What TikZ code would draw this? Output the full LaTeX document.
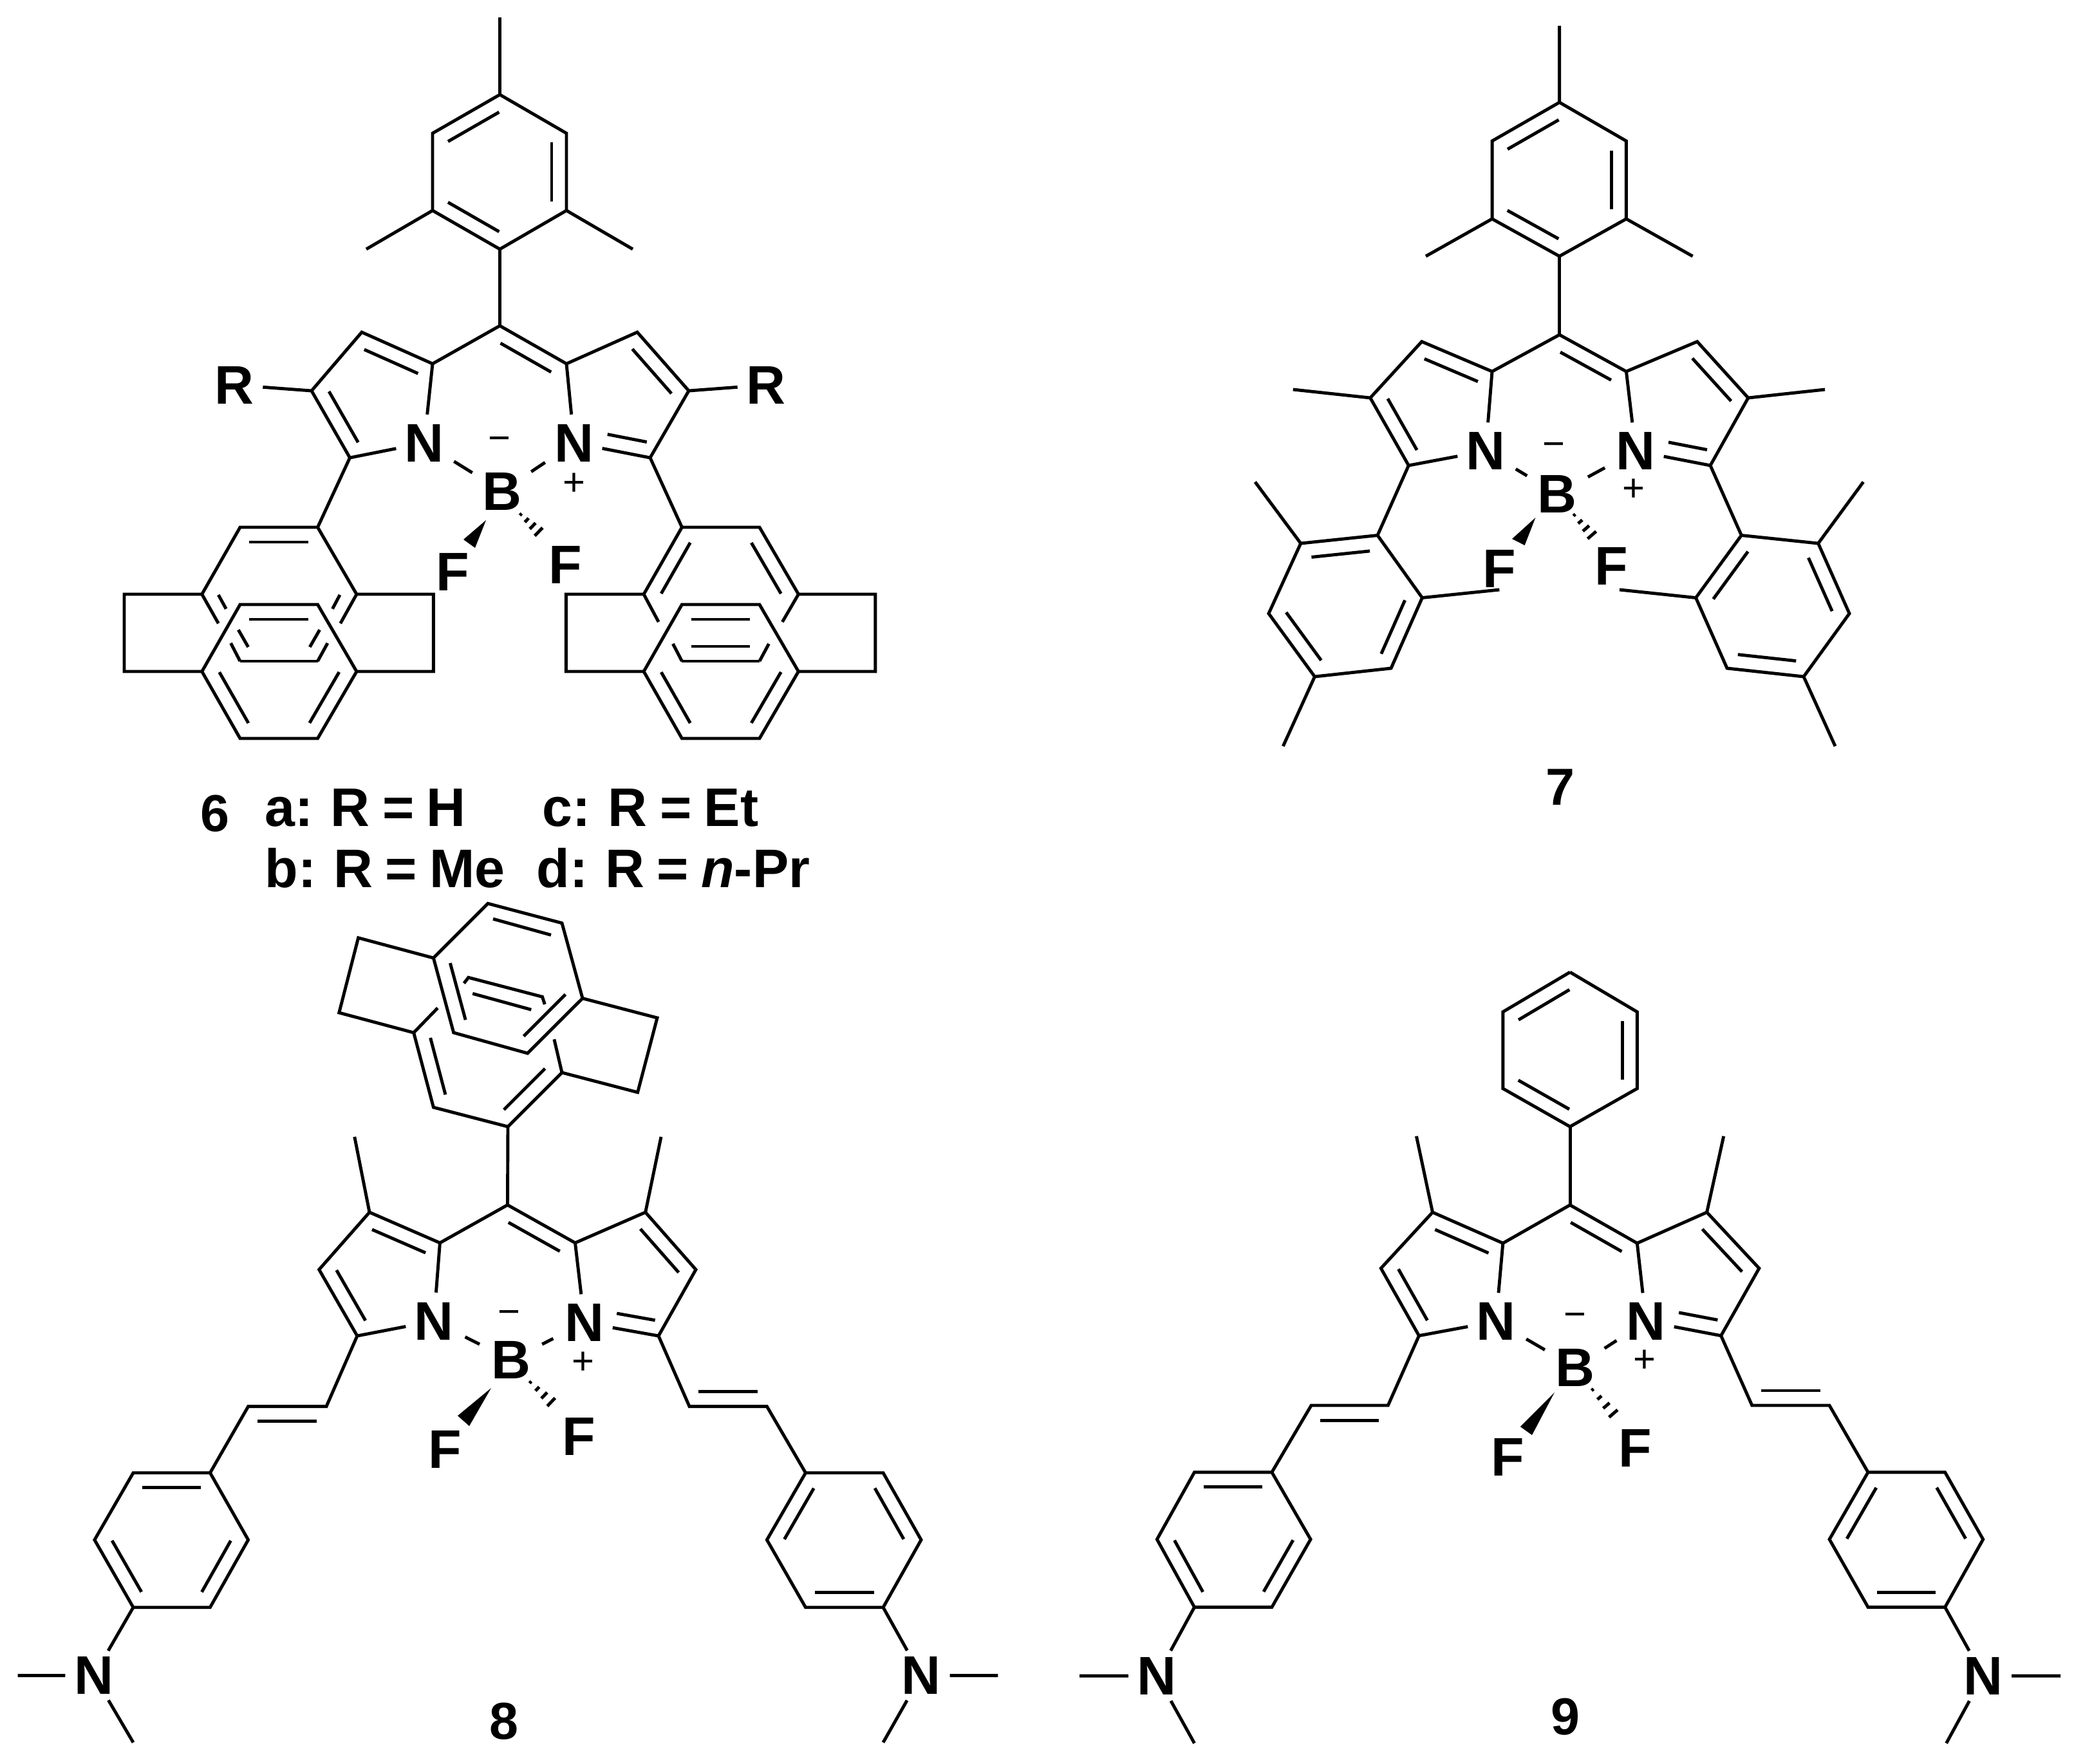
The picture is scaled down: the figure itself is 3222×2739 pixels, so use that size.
\documentclass[tikz,border=0pt]{standalone}
\usepackage{fontspec}
\setmainfont{Liberation Sans}
\usetikzlibrary{calc}
\newcommand\tagfont{\fontsize{24}{24}\selectfont\bfseries\spaceskip=.23em\relax}
\tikzset{
  atom/.style   = {circle, inner sep=0pt, minimum size=.84cm, font=\fontsize{24}{24}\selectfont\bfseries},
  chg/.style    = {inner sep=0pt, font=\fontsize{17}{17}\selectfont},
  tag/.style    = {inner sep=0pt, font=\tagfont},
  numtag/.style = {inner sep=0pt, font=\fontsize{23}{23}\selectfont\bfseries},
  nbond/.style  = {shorten <=1mm, shorten >=1mm},
}
\newcommand\coords[1]{\foreach \n/\x/\y in {#1} {\coordinate (\n) at (\x,\y);}}
\newcommand\atoms[1]{\foreach \n/\x/\y/\lab in {#1} {\node[atom] (\n) at (\x,\y) {\lab};}}
% inner line of a double bond, on the left of a -> b
\newcommand\dbl[2]{\draw ($(#1)!.12!(#2)!.23cm!90:(#2)$) -- ($(#2)!.12!(#1)!.23cm!-90:(#1)$);}
\newcommand\hashed[2]{\foreach \pos in {0,.25,.5,.75,1} {%
  \pgfmathsetmacro\w{.02+.09*\pos}
  \draw ($(#1)!\pos!(#2)!\w cm!90:(#2)$) -- ($(#1)!\pos!(#2)!\w cm!-90:(#2)$);}}
% the dipyrrin core shared by all four dyes
\newcommand\corebonds{
  \draw (meso)--(aL)--(bL)--(cL)--(dL)--(NL)--(aL);
  \draw (meso)--(aR)--(bR)--(cR)--(dR)--(NR)--(aR);
  \dbl{aR}{meso} \dbl{aL}{bL} \dbl{cL}{dL} \dbl{cR}{bR}
  \coordinate (NRe) at ($(NR)!.32!(dR)$);
  \dbl{NRe}{dR}
  \draw[nbond] (NL)--(B);
  \draw[nbond] (NR)--(B);
  \fill (wt)--(wa)--(wb)--cycle;
  \hashed{ht}{he}
}
% ring, vinyl and NMe2 arm
\newcommand\armbonds{
  \draw (dL)--(v1)--(v2)--(r1)--(r2)--(r3)--(r4)--(r5)--(r6)--(r1);
  \draw (dR)--(w1)--(w2)--(s1)--(s2)--(s3)--(s4)--(s5)--(s6)--(s1);
  \dbl{v1}{v2} \dbl{w1}{w2}
  \dbl{r1}{r2} \dbl{r3}{r4} \dbl{r5}{r6}
  \dbl{s1}{s6} \dbl{s5}{s4} \dbl{s3}{s2}
  \draw (r4)--(NA)--(mA); \draw (NA)--(nA);
  \draw (s4)--(NZ)--(mZ); \draw (NZ)--(nZ);
}
% the paracyclophane outline
\newcommand\phane{
  \coords{uTa/373/819,uTb/493.5/819,uL/313.7/923,uR/554/923,uBa/373/1027,uBb/493.5/1027,
    lTa/373/939,lTb/493.5/939,lL/313.7/1043,lR/554/1043,lBa/373/1147,lBb/493.5/1147,
    brA/193/923,brB/193/1043,brC/673.4/923,brD/673.4/1043}
  \draw (uL)--(brA)--(brB)--(lL)--(lBa)--(lBb)--(lR)--(brD)--(brC)--(uR);
  \draw (lL)--(lTa)--(lTb)--(lR);
  \draw (uL)--(uTa)--(uTb)--(uR);
  \draw (uBa)--(uBb);
  \dbl{lL}{lBa} \dbl{lBb}{lR} \dbl{lTb}{lTa}
}
\begin{document}
\begin{tikzpicture}[x=.01cm, y=-.01cm, line width=1.4pt]
  \useasboundingbox (0,0) rectangle (3222,2739);

  % dye 6
  \begin{scope}[name prefix=six-]
    \coords{mT/776.5/27,p/776.5/147,ul/672/207,ur/880/207,ll/672/327,lr/880/327,ipso/776.5/387,
      mL/569/387,mR/983/387,meso/776.5/506,aL/672/565,aR/880/565,bL/562/516,bR/990/516,
      cL/484/607,cR/1070/607,dL/543.5/711,dR/1010/711,
      wt/755/808,wa/720/838,wb/738/851,ht/809/799,he/846/835}
    \atoms{NL/659/688/N,NR/892/688/N,B/780/763/B,FL/703.5/888/F,FR/878/877/F,RL/364/598/R,RR/1190/598/R}
    \node[chg] (minus) at (776,689) {−};
    \node[chg] (plus) at (892,752) {+};
    \corebonds
    \draw (mT)--(p)--(ul)--(ll)--(ipso)--(lr)--(ur)--(p);
    \draw (mL)--(ll); \draw (mR)--(lr); \draw (ipso)--(meso);
    \dbl{p}{ul} \dbl{ll}{ipso} \dbl{lr}{ur}
    \draw (cL)--(RL); \draw (cR)--(RR);
  \end{scope}
  % left cyclophane of 6
  \begin{scope}[name prefix=pca-]
    \phane
    \dbl{uTb}{uTa}
    \coords{ka/339.3/968.3,kb/358.5/999,kc/528.8/968.3,kd/508.9/999,
      ia/339.3/924,ib/351.2/945.7,ic/370.3/978.3,id/385.6/1005,
      ie/528/924,if/516.5/945.7,ig/496.6/978.3,ih/481.3/1005}
    \draw (uL)--(ka); \draw (kb)--(uBa); \draw (uR)--(kc); \draw (kd)--(uBb);
    \draw (ia)--(ib); \draw (ic)--(id); \draw (ie)--(if); \draw (ig)--(ih);
  \end{scope}
  % right cyclophane of 6
  \begin{scope}[name prefix=pcb-, xshift=6.86cm]
    \phane
    \dbl{uTa}{uL} \dbl{uR}{uTb} \dbl{uBa}{uBb}
    \coords{ka/336.7/966,kb/359/1000,kc/529/966,kd/508/1000}
    \draw (uL)--(ka); \draw (kb)--(uBa); \draw (uR)--(kc); \draw (kd)--(uBb);
  \end{scope}
  \draw (six-dL)--(pca-uTb);
  \draw (six-dR)--(pcb-uTa);
  \node[numtag] (six) at (334,1264) {6};
  \node[tag, anchor=west] (sixa) at (409,1255) {a: R = H};
  \node[tag, anchor=west] (sixc) at (840,1255) {c: R = Et};
  \node[tag, anchor=west] (sixb) at (409,1348) {b: R = Me};
  \node[tag, anchor=west] (sixd) at (831,1348) {d: R = \textit{n}-Pr};

  % dye 7
  \begin{scope}[name prefix=sev-]
    \coords{mT/2422.6/40,p/2422.6/159,ul/2318/219,ur/2526.4/219,ll/2318/340,lr/2526.4/340,ipso/2422.6/398,
      mL/2215/398,mR/2629.6/398,meso/2422.6/520,aL/2318/577,aR/2526.4/577,bL/2208.7/530.6,bR/2636.6/530.6,
      cL/2128.7/618,cR/2715.8/618,xL/2008.7/605,xR/2835/605,dL/2188.3/723,dR/2657/723,
      wt/2385.4/804,wa/2349/837,wb/2368.6/847,ht/2445.8/800,he/2482/841.5,
      ca/2140/831.5,cb/2020.7/844,cc/1970.9/953,cd/2042.4/1051,ce/2161/1038,cf/2209.4/928.5,
      qb/1949.8/748.6,qd/1993.3/1159,qf/2329.3/916,
      ga/2705.3/831.5,gb/2824.6/844,gc/2873/953,gd/2802/1051,ge/2683/1038,gf/2634.5/928.5,
      hb/2894.7/748.6,hd/2851/1159,hf/2516/916}
    \atoms{NL/2308/700.5/N,NR/2541/700.5/N,B/2419/767/B,FL/2329/883/F,FR/2503/879/F}
    \node[chg] (minus) at (2414,698) {−};
    \node[chg] (plus) at (2538.4,761) {+};
    \corebonds
    \draw (mT)--(p)--(ul)--(ll)--(ipso)--(lr)--(ur)--(p);
    \draw (mL)--(ll); \draw (mR)--(lr); \draw (ipso)--(meso);
    \dbl{p}{ul} \dbl{ll}{ipso} \dbl{lr}{ur}
    \draw (xL)--(cL); \draw (xR)--(cR);
    \draw (dL)--(ca)--(cb)--(cc)--(cd)--(ce)--(cf)--(ca);
    \draw (qb)--(cb); \draw (qd)--(cd); \draw (qf)--(cf);
    \dbl{ca}{cb} \dbl{cc}{cd} \dbl{ce}{cf}
    \draw (dR)--(ga)--(gb)--(gc)--(gd)--(ge)--(gf)--(ga);
    \draw (hb)--(gb); \draw (hd)--(gd); \draw (hf)--(gf);
    \dbl{ga}{gf} \dbl{ge}{gd} \dbl{gc}{gb}
  \end{scope}
  \node[numtag] (sev) at (2424,1223) {7};

  % dye 8
  \begin{scope}[name prefix=eig-]
    \coords{meso/788.5/1871.6,aL/683.4/1930.5,aR/893.5/1930.5,bL/574/1883,bR/1002.7/1883,
      xL/550.8/1765.8,xR/1027/1765.8,cL/495.7/1972,cR/1081/1972,dL/554.9/2075,dR/1023/2075,
      wt/763/2156,wa/711/2199,wb/729/2215,ht/824/2147,he/867/2188,
      v1/507/2184.6,v2/385.6/2184.6,r1/326.4/2287.7,r2/207/2287.7,r3/146.9/2391.8,r4/207/2496.7,r5/326.4/2496.7,r6/385.6/2391.8,
      mA/27.5/2602.5,nA/207/2706.5,
      w1/1071/2184.6,w2/1191.4/2184.6,s1/1251.5/2287.7,s2/1372/2287.7,s3/1431/2391.8,s4/1372/2496.7,s5/1251.5/2496.7,s6/1191.4/2391.8,
      mZ/1550.4/2602.5,nZ/1372/2706.5}
    \atoms{NL/674/2052/N,NR/908/2054.5/N,B/793.6/2112.6/B,FL/691.6/2251/F,FR/899.6/2231/F,NA/145.9/2602.5/N,NZ/1431/2602.5/N}
    \node[chg] (minus) at (790.5,2046) {−};
    \node[chg] (plus) at (905.8,2117) {+};
    \corebonds
    \armbonds
    \draw (xL)--(bL); \draw (xR)--(bR);
    % cyclophane on the meso position
    \coords{ta/673.4/1488,tb/758/1403.4,tc/873/1433.8,td/905/1550.7,te/819.5/1636,tf/704.7/1604,
      ga/556.6/1456.7,gb/526.8/1573,gc/642.7/1604,gd/1021/1581,ge/990.6/1696.7,gf/873/1666,
      ha/673.4/1720,hb/789/1750,
      ka/766/1427.3,kb/856/1452.3,
      la/720.8/1527.3,lb/727.7/1518.3,lc/842.5/1548.3,ld/846.3/1560,
      na/734.2/1543.3,nb/825.3/1568.3,
      oa/679.9/1565.7,ob/860.9/1614.3}
    \draw (ta)--(tb)--(tc)--(td)--(te)--(tf)--(ta);
    \dbl{ta}{tf} \dbl{te}{td}
    \draw (ka)--(kb);
    \draw (ta)--(ga)--(gb)--(gc)--(ha)--(hb)--(gf)--(ge)--(gd)--(td);
    \draw (gc)--(oa); \draw (gf)--(ob);
    \draw (la)--(lb)--(lc)--(ld);
    \draw (na)--(nb);
    \dbl{gc}{ha} \dbl{hb}{gf}
    \draw (hb)--(meso);
  \end{scope}
  \node[numtag] (eig) at (783.4,2673.6) {8};

  % dye 9
  \begin{scope}[name prefix=nin-]
    \coords{p/2439/1510,ul/2334.8/1571.7,ur/2543.3/1571.7,ll/2334.8/1690.8,lr/2543.3/1690.8,ipso/2439/1750,
      meso/2439/1871.7,aL/2334.8/1931,aR/2543.3/1931,bL/2225.5/1883,bR/2651.6/1883,
      xL/2200.4/1764.8,xR/2677.7/1764.8,cL/2145.3/1970,cR/2732.8/1970,dL/2204.4/2074.7,dR/2673.6/2074.7,
      wt/2415/2162.7,wa/2361.8/2216,wb/2380/2229,ht/2474/2158.6,he/2517/2208,
      v1/2156.3/2183,v2/2037/2183,r1/1975.8/2286.8,r2/1855.5/2286.8,r3/1797.4/2391,r4/1855.5/2496.4,r5/1975.8/2496.4,r6/2036/2391,
      mA/1677/2603,nA/1855.5/2707.7,
      w1/2721.8/2183,w2/2842/2183,s1/2902/2286.8,s2/3021.6/2286.8,s3/3080.7/2391,s4/3021.6/2496.4,s5/2902/2496.4,s6/2842/2391,
      mZ/3201/2603,nZ/3023.6/2707.7}
    \atoms{NL/2324/2052.5/N,NR/2557/2052.5/N,B/2447/2124/B,FL/2341.8/2263.8/F,FR/2540.3/2249/F,NA/1797.4/2603/N,NZ/3080.7/2603/N}
    \node[chg] (minus) at (2447,2050) {−};
    \node[chg] (plus) at (2555.4,2114) {+};
    \corebonds
    \armbonds
    \draw (xL)--(bL); \draw (xR)--(bR);
    \draw (p)--(ul)--(ll)--(ipso)--(lr)--(ur)--(p);
    \draw (ipso)--(meso);
    \dbl{p}{ul} \dbl{ll}{ipso} \dbl{lr}{ur}
  \end{scope}
  \node[numtag] (nin) at (2432,2666.6) {9};
\end{tikzpicture}
\end{document}
